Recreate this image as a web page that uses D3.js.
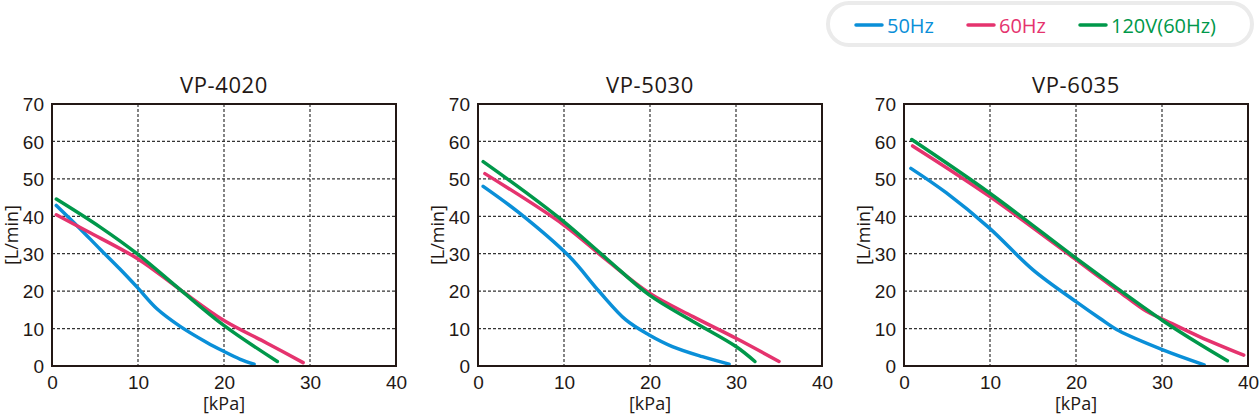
<!DOCTYPE html>
<html>
<head>
<meta charset="utf-8">
<script src="https://cdn.jsdelivr.net/npm/d3@7"></script>
<style>
  body { margin: 0; background: #fff; }
  svg { display: block; font-family: "Open Sans", "Noto Sans", sans-serif; }
</style>
</head>
<body>
<div id="chart"></div>
<script>
// chart data (kPa, L/min)
var models = ["VP-4020", "VP-5030", "VP-6035"];
var seriesNames = ["50Hz", "60Hz", "120V(60Hz)"];
var seriesColors = ["#0a8fd8", "#e5336e", "#00984a"];

var xTicks = [0, 10, 20, 30, 40];
var yTicks = [0, 10, 20, 30, 40, 50, 60, 70];

var vp4020_50 = [[0.5, 42.9], [3, 37.3], [5.6, 31.2], [7.9, 25.9], [10, 20.8], [12.2, 15.3], [14.9, 10.6], [18, 6.3], [19.9, 4.0], [21.9, 1.8], [23.5, 0.5]];
var vp4020_60 = [[0.5, 40.4], [4.1, 36], [10, 28.6], [14.9, 20.4], [19.9, 12.3], [25, 6.1], [29.2, 0.9]];
var vp4020_120 = [[0.5, 44.6], [5.6, 37.1], [10, 29.8], [14.9, 20.4], [19.9, 11], [26.2, 1.2]];

var vp5030_50 = [[0.6, 48], [4.8, 40.9], [10.6, 29.3], [14.1, 19.9], [17.2, 12.3], [19.9, 8.3], [22.6, 5.2], [26.1, 2.5], [29.2, 0.5]];
var vp5030_60 = [[0.8, 51.4], [9.9, 37.8], [14.9, 28.4], [19.9, 19.5], [25, 13.2], [30, 7.4], [35, 1.2]];
var vp5030_120 = [[0.6, 54.6], [5.6, 46.3], [9.9, 38.7], [14.9, 28.8], [19.9, 19], [25, 11.9], [30, 5.2], [32.2, 1.2]];

var vp6035_50 = [[0.8, 52.8], [4.9, 46.3], [9.9, 36.9], [15, 25.7], [20, 17.2], [22.8, 12.7], [25, 9.4], [30.1, 4.3], [34.9, 0.3]];
var vp6035_60 = [[1, 58.8], [9.9, 45.4], [20, 28.4], [22.8, 23.6], [25, 19.9], [28.2, 14.6], [30.1, 12.5], [34.4, 7.8], [39.5, 2.9]];
var vp6035_120 = [[0.9, 60.5], [9.9, 46.3], [20, 28.8], [25, 20.4], [30.1, 12.1], [34.4, 5.8], [37.6, 1.4]];

var panelData = [
  [vp4020_50, vp4020_60, vp4020_120],
  [vp5030_50, vp5030_60, vp5030_120],
  [vp6035_50, vp6035_60, vp6035_120]
];

var svgWidth = 1260;
var svgHeight = 414;

var svg = d3.select("#chart")
  .append("svg")
  .attr("width", svgWidth)
  .attr("height", svgHeight);

// panel geometry
var panelLeft = [52, 478, 904];
var plotW = 344;
var plotTop = 104;
var plotH = 262;

var x = d3.scaleLinear().domain([0, 40]).range([0, plotW]);
var y = d3.scaleLinear().domain([0, 70]).range([plotH, 0]);

var line = d3.line()
  .x(d => x(d[0]))
  .y(d => y(d[1]))
  .curve(d3.curveCatmullRom.alpha(0.5));

models.forEach(function(name, i) {
  var g = svg.append("g")
    .attr("transform", `translate(${panelLeft[i]}, ${plotTop})`);

  // dotted grid
  g.selectAll(".vgrid")
    .data(xTicks.slice(1, -1))
    .enter()
    .append("line")
    .attr("x1", d => x(d)).attr("x2", d => x(d))
    .attr("y1", 0).attr("y2", plotH)
    .attr("stroke", "#333")
    .attr("stroke-width", 1.2)
    .attr("stroke-dasharray", "3,2");

  g.selectAll(".hgrid")
    .data(yTicks.slice(1, -1))
    .enter()
    .append("line")
    .attr("x1", 0).attr("x2", plotW)
    .attr("y1", d => y(d)).attr("y2", d => y(d))
    .attr("stroke", "#333")
    .attr("stroke-width", 1.2)
    .attr("stroke-dasharray", "3,2");

  // curves
  panelData[i].forEach(function(pts, k) {
    g.append("path")
      .datum(pts)
      .attr("d", line)
      .attr("fill", "none")
      .attr("stroke", seriesColors[k])
      .attr("stroke-width", 3.5)
      .attr("stroke-linecap", "round");
  });

  // frame
  g.append("rect")
    .attr("x", 0).attr("y", 0)
    .attr("width", plotW).attr("height", plotH)
    .attr("fill", "none")
    .attr("stroke", "#231815")
    .attr("stroke-width", 2);

  // axes (labels only, frame drawn above)
  var bottomAxis = d3.axisBottom(x).tickValues(xTicks).tickSize(0).tickPadding(10);
  var leftAxis = d3.axisLeft(y).tickValues(yTicks).tickSize(0).tickPadding(8);

  var xAxis = g.append("g")
    .attr("transform", `translate(0, ${plotH})`)
    .call(bottomAxis);
  var yAxis = g.append("g").call(leftAxis);

  [xAxis, yAxis].forEach(function(ax) {
    ax.select(".domain").remove();
    ax.selectAll("text")
      .attr("fill", "#231815")
      .style("font-size", "19px");
  });
  yAxis.selectAll("text").attr("dy", "0.36em");

  // title
  g.append("text")
    .attr("x", plotW / 2)
    .attr("y", -11)
    .attr("text-anchor", "middle")
    .attr("fill", "#231815")
    .style("font-size", "22px")
    .style("letter-spacing", "0.6px")
    .text(name);

  // axis titles
  g.append("text")
    .attr("x", plotW / 2)
    .attr("y", plotH + 44)
    .attr("text-anchor", "middle")
    .attr("fill", "#231815")
    .style("font-size", "18px")
    .text("[kPa]");

  g.append("text")
    .attr("transform", `translate(-34, ${plotH / 2}) rotate(-90)`)
    .attr("text-anchor", "middle")
    .attr("fill", "#231815")
    .style("font-size", "18px")
    .text("[L/min]");
});

// legend
var legend = svg.append("g");
legend.append("rect")
  .attr("x", 828).attr("y", 3)
  .attr("width", 424).attr("height", 42)
  .attr("rx", 21)
  .attr("fill", "#fff")
  .attr("stroke", "#ebebeb")
  .attr("stroke-width", 4);

var legendX = [856, 968, 1080];
seriesNames.forEach(function(s, k) {
  legend.append("line")
    .attr("x1", legendX[k]).attr("x2", legendX[k] + 26)
    .attr("y1", 25).attr("y2", 25)
    .attr("stroke", seriesColors[k])
    .attr("stroke-width", 3.5)
    .attr("stroke-linecap", "round");
  legend.append("text")
    .attr("x", legendX[k] + 31)
    .attr("y", 33)
    .attr("fill", seriesColors[k])
    .style("font-size", "20px")
    .text(s);
});
</script>
</body>
</html>
